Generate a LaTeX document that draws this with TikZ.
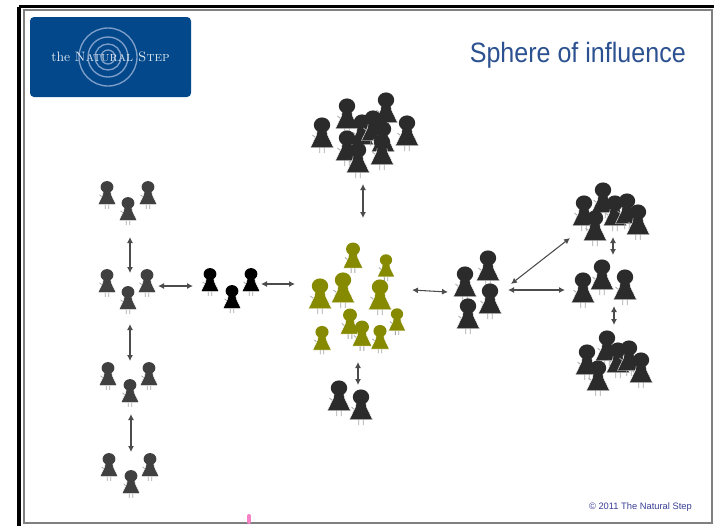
\documentclass[tikz,border=0pt]{standalone}
\usepackage{fontspec}
\setsansfont{Liberation Sans}
\usetikzlibrary{arrows.meta}
\definecolor{logoblue}{HTML}{02488A}
\definecolor{ringblue}{HTML}{7F9FCB}
\definecolor{titleblue}{HTML}{2C5191}
\definecolor{stepblue}{HTML}{3A3F96}
\definecolor{persongreen}{HTML}{858A00}
\definecolor{persondark}{HTML}{2B2B2B}
\tikzset{
    person/.pic = {
        \draw[gray!70, line width = 0.6pt] (-2.2,21) -- (-2.2,28) (2.2,21) -- (2.2,28) (-6,13) -- (-9.5,10);
        \path[pic actions, draw = white, line width = 0.3pt] (-4.5,4) -- (-5.5,10) -- (-11.5,22.5) -- (11.5,22.5) -- (5.5,10) -- (4.5,4) -- cycle;
        \path[pic actions] (0,0) ellipse (8.2 and 7.6);
    },
    link/.style = {{Latex[length=4.5pt,width=4.5pt]}-{Latex[length=4.5pt,width=4.5pt]}, line width = 0.8pt, draw = black!70}
}
\begin{document}
\begin{tikzpicture}[x = 0.75pt, y = -0.75pt]
            \useasboundingbox (0,0) rectangle (716,526);
            % slide frame
            \draw[line width = 2.6pt] (19,6.5) -- (714,6.5);
            \draw[line width = 2.6pt] (19,6.5) -- (19,526);
            \draw[gray, line width = 1pt] (24,10) -- (712,10) -- (712,523) -- (24,523) -- cycle;
            \draw[magenta!50, line width = 3pt, line cap = round] (249,516) -- (249,522);
            % logo
            \fill[logoblue, rounded corners = 3pt] (30,17) rectangle (191,97);
            \foreach \r in {29,20,13,7}
                \draw[ringblue, line width = 1pt] (108,57) circle (\r);
            \node[text = white!88!logoblue, font = \fontsize{10.2}{11}\selectfont, inner sep = 0pt] (LOGO) at (110.5,57) {the \textsc{Natural Step}};
            \node[anchor = east, text = titleblue, font = \sffamily\fontsize{21}{24}\selectfont, inner xsep = 0pt, xscale = 0.895] (TITLE) at (686,55) {Sphere of influence};
            \node[anchor = east, text = stepblue, font = \sffamily\fontsize{7}{8}\selectfont, inner xsep = 0pt] (COPY) at (692,507) {\textcopyright\ 2011 The Natural Step};
            % people
            \foreach \x/\y in {322/125,347/106,386/100,407/123,362/122,373/118,383/129,347/138,382/142,358/150,339/388,361/397,
                               465/274,488/258,490/291,468/306,
                               584/203,603/190,615/203,627/201,638/212,595/218,
                               583/280,602/267,625/277,
                               587/352,607/338,618/350,629/348,641/360,598/368}
                \pic[fill = persondark] at (\x,\y) {person};
            \foreach \x/\y/\s in {353/249/0.85,386/260/0.75,320/286/1,343/280/1,380/287/1,397/314/0.75,350/315/0.85,362/327/0.85,380/331/0.8,322/332/0.8}
                \pic[fill = persongreen, scale = \s] at (\x,\y) {person};
            \foreach \x/\y in {107/187,148/187,128/203,107/275,147/275,128/292,108/368,149/368,130/385,109/459,150/459,131/476}
                \pic[fill = black!75, scale = 0.78] at (\x,\y) {person};
            \foreach \x/\y in {210/274,251/274,232/291}
                \pic[fill = black, scale = 0.78] at (\x,\y) {person};
            % arrow ends
            \coordinate (T1) at (363,184);   \coordinate (T2) at (363,218);
            \coordinate (B1) at (358,362);   \coordinate (B2) at (358,385);
            \coordinate (C1) at (412,290);   \coordinate (C2) at (448,292);
            \coordinate (D1) at (511,284);   \coordinate (D2) at (570,238);
            \coordinate (E1) at (508,290);   \coordinate (E2) at (565,290);
            \coordinate (F1) at (613,237);   \coordinate (F2) at (613,255);
            \coordinate (G1) at (614,306);   \coordinate (G2) at (614,325);
            \coordinate (H1) at (130,237);   \coordinate (H2) at (130,273);
            \coordinate (I1) at (130,324);   \coordinate (I2) at (130,361);
            \coordinate (J1) at (131,414);   \coordinate (J2) at (131,452);
            \coordinate (K1) at (158,286);   \coordinate (K2) at (193,286);
            \coordinate (L1) at (261,284);   \coordinate (L2) at (295,284);
            \foreach \a/\b in {T1/T2,B1/B2,C1/C2,D1/D2,E1/E2,F1/F2,G1/G2,H1/H2,I1/I2,J1/J2,K1/K2,L1/L2}
                \draw[link] (\a) -- (\b);
\end{tikzpicture}
\end{document}
